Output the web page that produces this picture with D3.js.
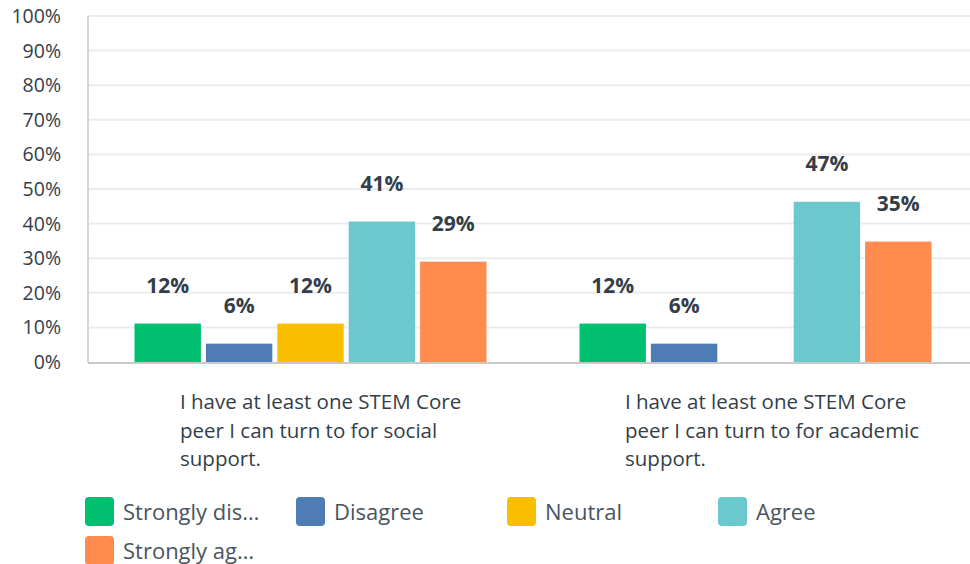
<!DOCTYPE html>
<html lang="en">
<head>
<meta charset="utf-8">
<title>STEM Core peer support</title>
<script src="https://cdn.jsdelivr.net/npm/d3@7"></script>
<style>
  body { margin: 0; background: #fff; }
  svg { display: block; font-family: "Open Sans", sans-serif; }
  .grid line { stroke: #ececec; stroke-width: 2px; }
  .tick-label { fill: #333e48; font-size: 19.5px; }
  .value-label { fill: #333e48; font-size: 21px; font-weight: 700; }
  .cat-label { fill: #333e48; font-size: 20.5px; }
  .legend-text { fill: #4a545e; font-size: 22px; }
</style>
</head>
<body>
<div id="chart"></div>
<script>
// data
var questions = ["social", "academic"];
var questionLines = [
  ["I have at least one STEM Core", "peer I can turn to for social", "support."],
  ["I have at least one STEM Core", "peer I can turn to for academic", "support."]
];
var series = ["Strongly disagree", "Disagree", "Neutral", "Agree", "Strongly agree"];
var legendNames = ["Strongly dis\u2026", "Disagree", "Neutral", "Agree", "Strongly ag\u2026"];
var colors = ["#00bf6f", "#507cb6", "#f9be00", "#6bc8cd", "#ff8b4f"];
var socialValues = [11.1, 5.3, 11.1, 40.6, 29.0];
var academicValues = [11.1, 5.3, 0, 46.3, 34.8];
var socialLabels = ["12%", "6%", "12%", "41%", "29%"];
var academicLabels = ["12%", "6%", "", "47%", "35%"];
var yTicks = [0, 10, 20, 30, 40, 50, 60, 70, 80, 90, 100];

var width = 970, height = 564;
var plot = {left: 88, right: 978, top: 16, bottom: 362};

var svg = d3.select("#chart").append("svg")
  .attr("width", width)
  .attr("height", height);

var x0 = d3.scaleBand()
  .domain(questions)
  .range([plot.left, plot.right]);

var x1 = d3.scaleBand()
  .domain(series)
  .range([46.5, x0.bandwidth() - 46.5])
  .paddingInner(0.07);

var y = d3.scaleLinear()
  .domain([0, 100])
  .range([plot.bottom, plot.top]);

// gridlines
svg.append("g").attr("class", "grid")
  .selectAll("line")
  .data(yTicks.slice(1))
  .enter().append("line")
  .attr("x1", plot.left).attr("x2", width)
  .attr("y1", function(d) { return y(d); })
  .attr("y2", function(d) { return y(d); });

// y tick labels
svg.append("g")
  .selectAll("text")
  .data(yTicks)
  .enter().append("text")
  .attr("class", "tick-label")
  .attr("x", 61)
  .attr("y", function(d) { return y(d); })
  .attr("dy", "0.36em")
  .attr("text-anchor", "end")
  .text(function(d) { return d + "%"; });

// bars
var groups = [
  {q: "social", values: socialValues, labels: socialLabels},
  {q: "academic", values: academicValues, labels: academicLabels}
];

var g = svg.selectAll(".group")
  .data(groups)
  .enter().append("g")
  .attr("class", "group")
  .attr("transform", function(d) { return "translate(" + x0(d.q) + ",0)"; });

g.selectAll("rect")
  .data(function(d) {
    return series.map(function(s, i) { return {s: s, v: d.values[i], label: d.labels[i], c: colors[i]}; })
      .filter(function(e) { return e.v > 0; });
  })
  .enter().append("rect")
  .attr("x", function(d) { return x1(d.s); })
  .attr("y", function(d) { return y(d.v); })
  .attr("width", x1.bandwidth())
  .attr("height", function(d) { return y(0) - y(d.v); })
  .attr("fill", function(d) { return d.c; });

g.selectAll(".value-label")
  .data(function(d) {
    return series.map(function(s, i) { return {s: s, v: d.values[i], label: d.labels[i]}; })
      .filter(function(e) { return e.v > 0; });
  })
  .enter().append("text")
  .attr("class", "value-label")
  .attr("x", function(d) { return x1(d.s) + x1.bandwidth() / 2; })
  .attr("y", function(d) { return y(d.v) - 31; })
  .attr("text-anchor", "middle")
  .text(function(d) { return d.label; });

// axis lines
svg.append("line")
  .attr("x1", plot.left).attr("x2", plot.left)
  .attr("y1", plot.top).attr("y2", plot.bottom + 1)
  .attr("stroke", "#d6d6d6").attr("stroke-width", 2);

svg.append("line")
  .attr("x1", plot.left).attr("x2", width)
  .attr("y1", plot.bottom + 1).attr("y2", plot.bottom + 1)
  .attr("stroke", "#c9c9c9").attr("stroke-width", 2);

// category labels
questions.forEach(function(q, i) {
  var t = svg.append("text")
    .attr("class", "cat-label")
    .attr("x", x0(q) + 92)
    .attr("y", 409);
  t.selectAll("tspan")
    .data(questionLines[i])
    .enter().append("tspan")
    .attr("x", x0(q) + 92)
    .attr("dy", function(d, j) { return j === 0 ? 0 : 28.5; })
    .text(function(d) { return d; });
});

// legend
var legend = svg.append("g").selectAll("g")
  .data(legendNames)
  .enter().append("g")
  .attr("transform", function(d, i) {
    return "translate(" + (85 + (i % 4) * 211) + "," + (497 + Math.floor(i / 4) * 39) + ")";
  });

legend.append("rect")
  .attr("width", 29).attr("height", 29)
  .attr("rx", 4).attr("ry", 4)
  .attr("fill", function(d, i) { return colors[i]; });

legend.append("text")
  .attr("class", "legend-text")
  .attr("x", 38)
  .attr("y", 15)
  .attr("dy", "0.36em")
  .text(function(d) { return d; });
</script>
</body>
</html>
